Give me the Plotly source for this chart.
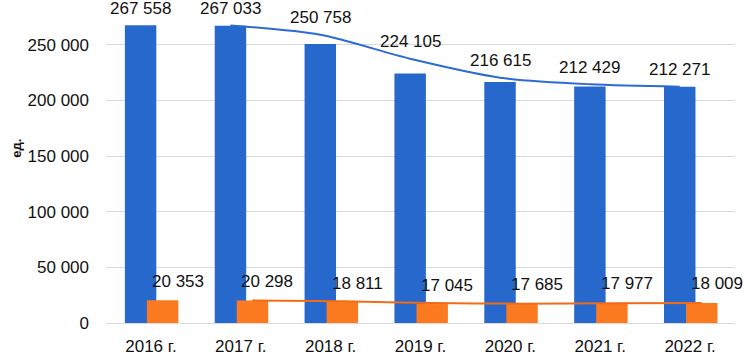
import plotly.graph_objects as go

categories = ["2016 г.", "2017 г.", "2018 г.", "2019 г.", "2020 г.", "2021 г.", "2022 г."]
series_blue = [267558, 267033, 250758, 224105, 216615, 212429, 212271]
series_orange = [20353, 20298, 18811, 17045, 17685, 17977, 18009]
# trend lines, shown from 2017 onward
trend_blue = [None, 267300, 258900, 237400, 220400, 214500, 212350]
trend_orange = [None, 20330, 19550, 17930, 17370, 17830, 17990]
y_ticks = [0, 50000, 100000, 150000, 200000, 250000]

BLUE = "#2668cc"
ORANGE = "#fb7a1f"
BLUE_LINE = "#2c6bd2"
ORANGE_LINE = "#f26c18"
FONT = "Liberation Sans"
FS = 17

idx = list(range(len(categories)))
bw = 0.35
off_b = -0.29
off_o = -0.045
cb = off_b + bw / 2
co = off_o + bw / 2


def fmt(v):
    return f"{v:,}".replace(",", " ")


fig = go.Figure()
fig.add_trace(go.Bar(x=idx, y=series_blue, width=bw, offset=off_b,
                     marker=dict(color=BLUE, line=dict(width=0)), hoverinfo="skip"))
fig.add_trace(go.Bar(x=idx, y=series_orange, width=bw, offset=off_o,
                     marker=dict(color=ORANGE, line=dict(width=0)), hoverinfo="skip"))

lx_b = [i + cb for i, v in zip(idx, trend_blue) if v is not None]
ly_b = [v for v in trend_blue if v is not None]
lx_o = [i + co for i, v in zip(idx, trend_orange) if v is not None]
ly_o = [v for v in trend_orange if v is not None]
fig.add_trace(go.Scatter(x=lx_b, y=ly_b, mode="lines", hoverinfo="skip",
                         line=dict(color=BLUE_LINE, width=2, shape="spline", smoothing=0.8)))
fig.add_trace(go.Scatter(x=lx_o, y=ly_o, mode="lines", hoverinfo="skip",
                         line=dict(color=ORANGE_LINE, width=2, shape="spline", smoothing=0.8)))

annotations = []
for i, v, t in zip(idx, series_blue, trend_blue):
    yy = v if t is None else max(v, t)
    annotations.append(dict(x=i + cb, y=yy, text=fmt(v), showarrow=False,
                            xref="x", yref="y", yanchor="middle", yshift=17,
                            font=dict(family=FONT, size=FS, color="#111111")))
for i, v in zip(idx, series_orange):
    annotations.append(dict(x=i + co, y=v, text=fmt(v), showarrow=False,
                            xref="x", yref="y", yanchor="middle", yshift=19, xshift=15,
                            font=dict(family=FONT, size=FS, color="#111111")))
annotations.append(dict(x=-0.158, y=0.54, xref="paper", yref="paper", text="<b>ед.</b>",
                        textangle=-90, showarrow=False,
                        font=dict(family=FONT, size=13, color="#111111")))

fig.update_layout(
    width=751, height=356,
    margin=dict(l=106, r=16, t=0, b=31),
    paper_bgcolor="white", plot_bgcolor="white",
    barmode="overlay", showlegend=False,
    separators=", ",
    font=dict(family=FONT, size=FS, color="#111111"),
    annotations=annotations,
)
fig.update_xaxes(tickmode="array", tickvals=idx, ticktext=categories,
                 range=[-0.5, len(categories) - 0.5], showgrid=False,
                 showline=True, linecolor="#d9d9d9", linewidth=1,
                 ticks="", ticklabelstandoff=8, zeroline=False,
                 tickfont=dict(family=FONT, size=FS, color="#111111"))
fig.update_yaxes(range=[0, 290179], tickmode="array", tickvals=y_ticks,
                 ticktext=[fmt(v) for v in y_ticks],
                 showgrid=True, gridcolor="#d9d9d9", gridwidth=1,
                 zeroline=False, showline=False, ticks="", ticklabelstandoff=16,
                 tickfont=dict(family=FONT, size=FS, color="#111111"))

fig.write_html("out.html", config={"displayModeBar": False},
               post_script="document.body.style.margin='0';document.body.style.overflow='hidden';")
